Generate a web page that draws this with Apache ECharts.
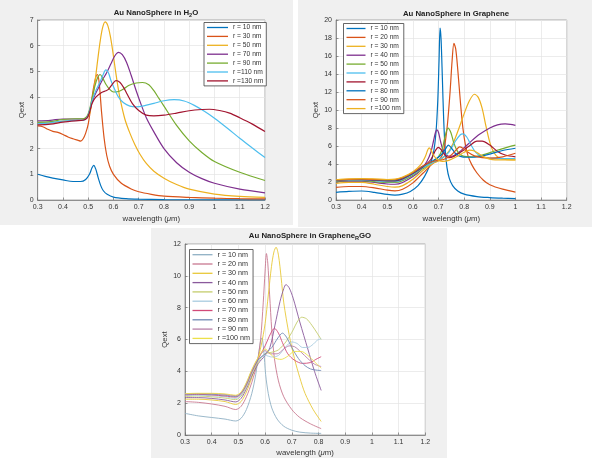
<!DOCTYPE html>
<html><head><meta charset="utf-8">
<script src="https://cdn.jsdelivr.net/npm/echarts@6/dist/echarts.min.js"></script>
<style>html,body{margin:0;padding:0;background:#fff}#c{width:592px;height:458px}</style>
</head><body><div id="c"></div>
<script>
// ---------- data: [wavelength (um), Qext] ----------
// Panel 1: Au NanoSphere in H2O
const h2oNames = ['r = 10 nm','r = 30 nm','r = 50 nm','r = 70 nm','r = 90 nm','r =110 nm','r =130 nm'];
const h2o_r10 = [[0.3,1.0],[0.33,0.92],[0.36,0.85],[0.4,0.78],[0.44,0.72],[0.47,0.72],[0.49,0.8],[0.505,1.0],[0.515,1.25],[0.522,1.35],[0.53,1.2],[0.54,0.85],[0.55,0.55],[0.56,0.36],[0.575,0.22],[0.6,0.11],[0.65,0.05],[0.7,0.03],[0.8,0.015],[1.0,0.008],[1.2,0.005]];
const h2o_r30 = [[0.3,2.88],[0.32,2.85],[0.34,2.75],[0.36,2.67],[0.38,2.63],[0.4,2.55],[0.42,2.45],[0.44,2.38],[0.46,2.32],[0.47,2.29],[0.48,2.38],[0.49,2.6],[0.5,2.95],[0.51,3.6],[0.52,4.3],[0.53,4.78],[0.536,4.88],[0.543,4.6],[0.553,3.4],[0.563,2.4],[0.573,1.75],[0.585,1.3],[0.6,1.0],[0.63,0.66],[0.67,0.43],[0.7,0.32],[0.75,0.22],[0.8,0.15],[0.9,0.1],[1.0,0.07],[1.1,0.05],[1.2,0.04]];
const h2o_r50 = [[0.3,3.0],[0.35,3.0],[0.4,3.07],[0.45,3.1],[0.48,3.12],[0.495,3.2],[0.507,3.4],[0.517,3.95],[0.527,4.6],[0.537,5.4],[0.547,6.15],[0.557,6.7],[0.567,6.93],[0.577,6.8],[0.587,6.4],[0.597,5.8],[0.607,5.1],[0.617,4.45],[0.627,3.9],[0.645,3.15],[0.665,2.6],[0.685,2.15],[0.705,1.78],[0.73,1.42],[0.76,1.12],[0.8,0.85],[0.85,0.6],[0.9,0.42],[1.0,0.23],[1.1,0.14],[1.2,0.1]];
const h2o_r70 = [[0.3,3.08],[0.35,3.1],[0.4,3.15],[0.45,3.15],[0.48,3.15],[0.495,3.22],[0.505,3.45],[0.515,3.8],[0.525,4.05],[0.54,4.35],[0.555,4.65],[0.573,4.95],[0.59,5.3],[0.605,5.6],[0.62,5.74],[0.635,5.65],[0.652,5.35],[0.67,4.85],[0.69,4.25],[0.71,3.7],[0.73,3.2],[0.76,2.65],[0.8,2.0],[0.85,1.45],[0.9,1.08],[0.95,0.83],[1.0,0.65],[1.1,0.42],[1.2,0.28]];
const h2o_r90 = [[0.3,3.02],[0.35,3.05],[0.4,3.13],[0.45,3.16],[0.48,3.16],[0.495,3.25],[0.505,3.5],[0.515,3.95],[0.527,4.45],[0.537,4.75],[0.547,4.88],[0.557,4.75],[0.57,4.5],[0.585,4.3],[0.6,4.2],[0.62,4.22],[0.64,4.32],[0.66,4.45],[0.69,4.55],[0.715,4.57],[0.74,4.48],[0.76,4.25],[0.78,3.95],[0.8,3.65],[0.85,2.9],[0.9,2.3],[0.95,1.85],[1.0,1.5],[1.1,1.08],[1.2,0.76]];
const h2o_r110 = [[0.3,2.97],[0.35,3.0],[0.4,3.07],[0.45,3.1],[0.48,3.1],[0.495,3.2],[0.505,3.45],[0.515,3.85],[0.53,4.25],[0.545,4.55],[0.558,4.85],[0.57,5.06],[0.58,4.95],[0.59,4.65],[0.605,4.3],[0.62,4.0],[0.64,3.78],[0.665,3.65],[0.69,3.62],[0.72,3.66],[0.76,3.76],[0.8,3.86],[0.84,3.9],[0.88,3.85],[0.92,3.68],[0.96,3.45],[1.0,3.18],[1.05,2.8],[1.1,2.4],[1.15,2.02],[1.2,1.65]];
const h2o_r130 = [[0.3,2.92],[0.35,2.95],[0.4,3.03],[0.45,3.08],[0.48,3.1],[0.495,3.18],[0.505,3.4],[0.515,3.75],[0.53,4.0],[0.553,4.18],[0.57,4.25],[0.58,4.3],[0.595,4.5],[0.61,4.64],[0.625,4.58],[0.64,4.38],[0.655,4.1],[0.675,3.75],[0.7,3.48],[0.73,3.3],[0.76,3.27],[0.8,3.3],[0.85,3.38],[0.9,3.47],[0.95,3.52],[0.98,3.53],[1.02,3.48],[1.06,3.38],[1.1,3.2],[1.15,2.95],[1.2,2.66]];

// Panel 2: Au NanoSphere in Graphene
const grNames = ['r = 10 nm','r = 20 nm','r = 30 nm','r = 40 nm','r = 50 nm','r = 60 nm','r = 70 nm','r = 80 nm','r = 90 nm','r =100 nm'];
const gr_r10 = [[0.3,0.85],[0.35,0.95],[0.4,1.0],[0.45,0.85],[0.5,0.62],[0.53,0.55],[0.56,0.65],[0.59,0.95],[0.62,1.6],[0.645,2.6],[0.665,3.8],[0.68,5.2],[0.69,7.5],[0.697,11],[0.702,15.5],[0.706,19.1],[0.71,17.8],[0.715,13.5],[0.72,9],[0.726,5.6],[0.733,3.6],[0.742,2.4],[0.755,1.6],[0.775,1.0],[0.8,0.65],[0.85,0.38],[0.9,0.27],[0.95,0.2],[1.0,0.15]];
const gr_r20 = [[0.3,1.4],[0.35,1.5],[0.4,1.5],[0.45,1.35],[0.5,1.1],[0.53,1.02],[0.56,1.2],[0.6,1.9],[0.64,3.0],[0.68,4.1],[0.7,4.4],[0.715,5.0],[0.725,6.2],[0.735,8.5],[0.745,12],[0.753,15.5],[0.76,17.4],[0.767,16.8],[0.775,14.5],[0.785,11],[0.795,8],[0.805,6.1],[0.815,4.9],[0.83,3.9],[0.85,3.0],[0.875,2.2],[0.9,1.7],[0.95,1.2],[1.0,0.88]];
const gr_r30 = [[0.3,1.85],[0.35,1.95],[0.4,1.95],[0.45,1.75],[0.5,1.5],[0.53,1.42],[0.56,1.6],[0.6,2.3],[0.64,3.3],[0.68,4.1],[0.71,4.5],[0.74,5.4],[0.76,6.5],[0.78,8.0],[0.8,9.6],[0.82,11.0],[0.84,11.75],[0.855,11.4],[0.87,10.2],[0.885,8.2],[0.9,6.4],[0.915,5.3],[0.935,4.7],[0.96,4.5],[1.0,4.45]];
const gr_r40 = [[0.3,2.05],[0.35,2.1],[0.4,2.1],[0.45,1.95],[0.5,1.78],[0.53,1.75],[0.56,1.95],[0.6,2.6],[0.63,3.3],[0.655,4.3],[0.67,5.3],[0.68,6.5],[0.688,7.5],[0.694,7.8],[0.7,7.5],[0.708,6.5],[0.718,5.5],[0.73,5.0],[0.745,4.85],[0.76,4.95],[0.78,5.3],[0.8,5.8],[0.83,6.6],[0.86,7.3],[0.9,8.0],[0.93,8.35],[0.96,8.45],[0.98,8.4],[1.0,8.3]];
const gr_r50 = [[0.3,2.1],[0.35,2.15],[0.4,2.15],[0.45,2.05],[0.5,1.95],[0.53,1.95],[0.56,2.15],[0.6,2.75],[0.64,3.5],[0.68,4.3],[0.7,4.8],[0.715,5.7],[0.725,7.0],[0.737,7.98],[0.748,7.5],[0.758,6.5],[0.77,5.6],[0.785,5.05],[0.8,4.85],[0.83,4.8],[0.87,5.0],[0.92,5.45],[0.96,5.8],[1.0,6.1]];
const gr_r60 = [[0.3,2.15],[0.35,2.2],[0.4,2.2],[0.45,2.15],[0.5,2.05],[0.53,2.05],[0.56,2.25],[0.6,2.85],[0.64,3.6],[0.68,4.2],[0.71,4.6],[0.74,5.3],[0.765,6.5],[0.785,7.25],[0.795,7.35],[0.81,7.0],[0.825,6.2],[0.845,5.3],[0.87,4.8],[0.9,4.65],[0.95,4.6],[1.0,4.6]];
const gr_r70 = [[0.3,2.2],[0.35,2.25],[0.4,2.25],[0.45,2.2],[0.5,2.12],[0.53,2.12],[0.56,2.35],[0.6,2.95],[0.64,3.7],[0.67,4.5],[0.688,5.5],[0.699,5.85],[0.71,5.6],[0.725,5.0],[0.74,4.7],[0.76,4.85],[0.79,5.4],[0.82,6.0],[0.85,6.55],[0.87,6.55],[0.9,6.1],[0.93,5.4],[0.96,5.0],[1.0,4.8]];
const gr_r80 = [[0.3,2.2],[0.35,2.28],[0.4,2.3],[0.45,2.25],[0.5,2.18],[0.53,2.2],[0.56,2.42],[0.6,3.0],[0.64,3.75],[0.68,4.4],[0.71,5.0],[0.728,5.7],[0.738,6.1],[0.75,5.8],[0.765,5.2],[0.785,4.85],[0.81,4.75],[0.85,4.8],[0.9,5.1],[0.95,5.5],[1.0,5.75]];
const gr_r90 = [[0.3,2.22],[0.35,2.3],[0.4,2.32],[0.45,2.28],[0.5,2.22],[0.53,2.25],[0.56,2.48],[0.6,3.05],[0.64,3.8],[0.68,4.3],[0.72,4.5],[0.75,5.0],[0.77,5.6],[0.782,5.9],[0.795,5.75],[0.815,5.3],[0.84,4.9],[0.87,4.7],[0.9,4.65],[0.95,4.8],[1.0,5.2]];
const gr_r100 = [[0.3,2.25],[0.35,2.35],[0.4,2.38],[0.45,2.35],[0.5,2.28],[0.53,2.32],[0.56,2.55],[0.6,3.15],[0.63,3.9],[0.648,4.8],[0.657,5.5],[0.663,5.8],[0.67,5.6],[0.68,5.0],[0.695,4.5],[0.715,4.3],[0.74,4.4],[0.77,4.8],[0.8,5.3],[0.82,5.55],[0.84,5.45],[0.87,4.9],[0.9,4.55],[0.95,4.45],[1.0,4.45]];

// Panel 3: Au NanoSphere in Graphene_R GO
const rgoNames = grNames;
const rgo_r10 = [[0.3,1.36],[0.35,1.2],[0.4,1.1],[0.45,1.0],[0.49,0.88],[0.51,1.05],[0.53,1.6],[0.55,2.6],[0.565,3.8],[0.575,5.0],[0.583,5.9],[0.588,6.1],[0.595,5.3],[0.602,3.8],[0.612,2.6],[0.625,1.7],[0.645,1.0],[0.67,0.55],[0.7,0.3],[0.73,0.18],[0.77,0.12],[0.81,0.1]];
const rgo_r20 = [[0.3,2.1],[0.35,2.05],[0.4,1.95],[0.45,1.8],[0.49,1.6],[0.51,1.8],[0.53,2.4],[0.55,3.3],[0.57,4.5],[0.583,6.0],[0.593,8.3],[0.6,10.3],[0.605,11.4],[0.61,10.8],[0.617,8.8],[0.625,6.6],[0.635,4.8],[0.65,3.4],[0.67,2.4],[0.7,1.6],[0.73,1.1],[0.77,0.7],[0.81,0.4]];
const rgo_r30 = [[0.3,2.25],[0.35,2.25],[0.4,2.2],[0.45,2.1],[0.49,1.92],[0.51,2.1],[0.53,2.7],[0.55,3.6],[0.57,4.6],[0.585,5.6],[0.6,7.0],[0.612,8.8],[0.624,10.6],[0.633,11.5],[0.641,11.8],[0.65,11.3],[0.66,9.9],[0.67,8.3],[0.69,6.3],[0.71,4.8],[0.73,3.6],[0.75,2.6],[0.78,1.6],[0.81,0.85]];
const rgo_r40 = [[0.3,2.35],[0.35,2.35],[0.4,2.3],[0.45,2.2],[0.49,2.08],[0.51,2.3],[0.53,2.9],[0.55,3.7],[0.575,4.5],[0.6,5.0],[0.618,5.5],[0.637,6.9],[0.656,8.4],[0.67,9.2],[0.678,9.45],[0.69,9.25],[0.705,8.6],[0.73,7.1],[0.76,5.4],[0.785,4.0],[0.81,2.8]];
const rgo_r50 = [[0.3,2.42],[0.35,2.45],[0.4,2.4],[0.45,2.32],[0.49,2.22],[0.51,2.45],[0.53,3.0],[0.55,3.8],[0.575,4.6],[0.6,5.1],[0.625,5.2],[0.65,5.35],[0.68,5.9],[0.705,6.6],[0.72,7.1],[0.737,7.4],[0.755,7.3],[0.775,6.9],[0.795,6.4],[0.81,6.0]];
const rgo_r60 = [[0.3,2.48],[0.35,2.5],[0.4,2.47],[0.45,2.4],[0.49,2.3],[0.51,2.5],[0.53,3.05],[0.55,3.85],[0.575,4.7],[0.6,5.0],[0.625,4.9],[0.65,5.0],[0.675,5.5],[0.7,5.85],[0.72,5.75],[0.74,5.5],[0.76,5.5],[0.78,5.7],[0.795,5.95],[0.81,6.05]];
const rgo_r70 = [[0.3,2.52],[0.35,2.55],[0.4,2.52],[0.45,2.45],[0.49,2.38],[0.51,2.6],[0.53,3.15],[0.55,3.95],[0.575,4.8],[0.6,5.6],[0.62,6.35],[0.635,6.7],[0.65,6.4],[0.665,5.8],[0.685,5.1],[0.71,4.7],[0.74,4.5],[0.77,4.55],[0.79,4.75],[0.81,4.92]];
const rgo_r80 = [[0.3,2.55],[0.35,2.58],[0.4,2.56],[0.45,2.5],[0.49,2.42],[0.51,2.62],[0.53,3.2],[0.55,4.0],[0.575,4.75],[0.6,5.1],[0.625,5.5],[0.648,6.1],[0.665,6.4],[0.68,6.15],[0.7,5.5],[0.725,4.8],[0.75,4.35],[0.77,4.15],[0.79,4.08],[0.81,4.05]];
const rgo_r90 = [[0.3,2.58],[0.35,2.6],[0.4,2.6],[0.45,2.55],[0.49,2.47],[0.51,2.66],[0.53,3.25],[0.55,4.05],[0.575,4.85],[0.6,5.3],[0.62,5.1],[0.645,5.1],[0.67,5.4],[0.69,5.6],[0.71,5.55],[0.735,5.2],[0.76,4.8],[0.785,4.45],[0.81,4.3]];
const rgo_r100 = [[0.3,2.6],[0.35,2.62],[0.4,2.62],[0.45,2.58],[0.49,2.5],[0.51,2.7],[0.53,3.3],[0.55,4.1],[0.575,4.9],[0.6,5.4],[0.615,5.2],[0.635,4.85],[0.66,4.75],[0.685,4.95],[0.71,5.25],[0.735,5.25],[0.76,5.0],[0.785,4.6],[0.81,4.2]];

// axis ticks
const xTicks = {min:0.3, max:1.2, interval:0.1};
const yTicks = [{min:0,max:7,interval:1},{min:0,max:20,interval:2},{min:0,max:12,interval:2}];

// ---------- styling ----------
const FONT = 'Liberation Sans, Arial, Helvetica, sans-serif';
const ML = ['#0072BD','#D95319','#EDB120','#7E2F8E','#77AC30','#4DBEEE','#A2142F'];
const rgoColors = ['#8fb0c4','#c87890','#e8c838','#8a5a9c','#c4cc6c','#a8cce0','#d24a78','#7088b4','#b880a8','#ece04a'];

const h2oData = [h2o_r10,h2o_r30,h2o_r50,h2o_r70,h2o_r90,h2o_r110,h2o_r130];
const grData = [gr_r10,gr_r20,gr_r30,gr_r40,gr_r50,gr_r60,gr_r70,gr_r80,gr_r90,gr_r100];
const rgoData = [rgo_r10,rgo_r20,rgo_r30,rgo_r40,rgo_r50,rgo_r60,rgo_r70,rgo_r80,rgo_r90,rgo_r100];

const series = [];
function add(prefix, names, datas, colors, gi, width){
  names.forEach((n,i)=>{
    const c = colors[i % colors.length];
    series.push({type:'line', name: prefix+'|'+n, data: datas[i], xAxisIndex:gi, yAxisIndex:gi,
      symbol:'none', showSymbol:false, smooth:0.3, animation:false,
      lineStyle:{color:c, width:width}, itemStyle:{color:c}});
  });
}
add('h', h2oNames, h2oData, ML, 0, 1.2);
add('g', grNames, grData, ML, 1, 1.2);
add('o', rgoNames, rgoData, rgoColors, 2, 0.9);

const grids = [
  {left:37.7, top:20, width:227.3, height:180},
  {left:336, top:20, width:230.7, height:180},
  {left:185, top:244, width:240.3, height:191}
].map(g=>Object.assign(g,{show:true, backgroundColor:'#fff', borderColor:'#8a8a8a', borderWidth:0.7}));

const axisCommon = {
  axisLine:{show:true, onZero:false, lineStyle:{color:'#6b6b6b', width:0.7}},
  axisTick:{show:true, inside:true, length:2.5, lineStyle:{color:'#6b6b6b', width:0.7}},
  splitLine:{show:true, lineStyle:{color:'#e4e4e4', width:0.7}},
  axisLabel:{fontFamily:FONT, fontSize:7, color:'#333', margin:4},
  nameTextStyle:{fontFamily:FONT, fontSize:7.8, color:'#333'}
};
const xName = '{n|wavelength (}{i|μ}{n|m)}';
const xRich = {n:{fontFamily:FONT,fontSize:7.8,color:'#333'}, i:{fontFamily:FONT,fontSize:7.8,fontStyle:'italic',color:'#333'}};
const xAxes = [0,1,2].map(i=>Object.assign({}, axisCommon, {
  type:'value', gridIndex:i, min:xTicks.min, max:xTicks.max, interval:xTicks.interval,
  name:xName, nameLocation:'middle', nameGap: i===2?14:15,
  nameTextStyle:{rich:xRich},
  axisLabel:Object.assign({}, axisCommon.axisLabel, {formatter:v=>String(+v.toFixed(1))})
}));
const yAxes = [0,1,2].map(i=>Object.assign({}, axisCommon, {
  type:'value', gridIndex:i, min:yTicks[i].min, max:yTicks[i].max, interval:yTicks[i].interval,
  name:'Qext', nameLocation:'middle', nameGap: [11,12,10][i]
}));

function legend(prefix, names, left, top, iw, ih, fs){
  return {show:true, orient:'vertical', left:left, top:top, data:names.map(n=>({name:prefix+'|'+n, icon:'rect'})),
    formatter:n=>n.split('|')[1], itemWidth:iw, itemHeight:1.3, itemGap:0.9,
    padding:[1,3,1,3], backgroundColor:'#fff', borderColor:'#404040', borderWidth:0.8,
    textStyle:{fontFamily:FONT, fontSize:fs, color:'#333', lineHeight:ih, height:ih}, selectedMode:false};
}

const titleRich = {
  b:{fontFamily:FONT, fontSize:7.8, fontWeight:'bold', color:'#222'},
  s:{fontFamily:FONT, fontSize:5.6, fontWeight:'bold', color:'#222', padding:[5,0,0,0]}
};
const titles = [
  {text:'{b|Au NanoSphere in H}{s|2}{b|O}', left:151, top:2},
  {text:'{b|Au NanoSphere in Graphene}', left:451, top:5},
  {text:'{b|Au NanoSphere in Graphene}{s|R}{b|GO}', left:305, top:225}
].map(t=>Object.assign(t,{textAlign:'center', textStyle:{rich:titleRich}}));

const chart = echarts.init(document.getElementById('c'), null, {renderer:'canvas'});
chart.setOption({
  backgroundColor:'#ffffff',
  animation:false,
  graphic:[
    {type:'rect', z:-10, shape:{x:0,y:0,width:293,height:225}, style:{fill:'#f0f0f0'}},
    {type:'rect', z:-10, shape:{x:298,y:0,width:294,height:227}, style:{fill:'#f0f0f0'}},
    {type:'rect', z:-10, shape:{x:151,y:228,width:296,height:230}, style:{fill:'#f0f0f0'}}
  ],
  title:titles,
  grid:grids,
  xAxis:xAxes,
  yAxis:yAxes,
  legend:[
    legend('h', h2oNames, 204, 22.5, 21, 8, 6.7),
    legend('g', grNames, 343.5, 23.5, 19, 8, 6.7),
    legend('o', rgoNames, 189.5, 249.5, 20, 8.4, 7.2)
  ],
  series:series
});
</script></body></html>
